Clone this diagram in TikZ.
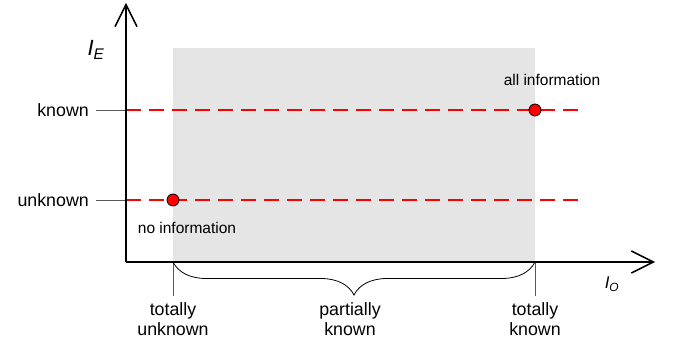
\documentclass[tikz,border=0pt]{standalone}
\usepackage{fontspec}
\setmainfont{Liberation Sans}
\usetikzlibrary{arrows.meta}
\usetikzlibrary{decorations.pathreplacing}
\usetikzlibrary{positioning}

\begin{document}
\begin{tikzpicture}[
  x=1pt,y=-1pt,
  every node/.style={inner sep=0pt},
  axis/.style={line width=1.5pt,-{Straight Barb[length=22pt,width=22pt,line width=1.5pt]}},
  tick/.style={draw=black!65,line width=0.8pt},
  level/.style={red,line width=1.8pt,dash pattern=on 15pt off 8pt},
  dot/.style={circle,draw=black,fill=red,minimum size=12pt,line width=0.8pt},
  lbl/.style={font=\fontsize{17.8}{20}\selectfont,align=center},
  note/.style={font=\fontsize{15.5}{18}\selectfont}
  ]
    \useasboundingbox (0,0) rectangle (675,347);
    % area of partial knowledge
    \fill[black!10] (173,48) rectangle (535,262);
    \coordinate (o) at (126,262);
    \coordinate (ytop) at (126,3);
    \coordinate (xend) at (655,262);
    \coordinate (kn) at (126,110);
    \coordinate (unk) at (126,200);
    \coordinate (knend) at (582,110);
    \coordinate (unkend) at (582,200);
    \coordinate (lo) at (173,262);
    \coordinate (hi) at (535,262);
    \coordinate (mid) at (350,262);
    \coordinate (lotick) at (173,296);
    \coordinate (hitick) at (535,296);
    %\node[lbl](ie){$I_E$};
    \node[font=\fontsize{22}{24}\selectfont\itshape] (ie) at (96,50) {I\textsubscript{E}};
    \node[font=\fontsize{17}{20}\selectfont\itshape] (io) at (612,284) {I\textsubscript{O}};
    \node[lbl,anchor=east] (known) at (89,110) {known};
    \node[lbl,anchor=east] (unknown) at (89,200) {unknown};
    \draw[tick] (known.east) ++(7,0) -- (kn);
    \draw[tick] (unknown.east) ++(7,0) -- (unk);
    \draw[level] (kn) -- (knend);
    \draw[level] (unk) -- (unkend);
    \node[dot] (noinfo) at (173,200) {};
    \node[dot] (allinfo) at (535,110) {};
    \node[note,below=16pt of noinfo,xshift=14pt] (noinfotext) {no information};
    \node[note,above=18pt of allinfo,xshift=17pt] (allinfotext) {all information};
    \draw[tick] (lo) -- (lotick);
    \draw[tick] (hi) -- (hitick);
    \draw[line width=0.8pt,decorate,decoration={brace,mirror,amplitude=33pt,aspect=0.5}]
      (lo) -- (hi);
    \node[lbl,below=6pt of lotick] (tu) {totally\\unknown};
    \node[lbl,anchor=north] (pk) at (mid|-tu.north) {partially\\known};
    \node[lbl,below=6pt of hitick] (tk) {totally\\known};
    \draw[axis] (o) -- (ytop);
    \draw[axis] (o) -- (xend);
\end{tikzpicture}
\end{document}
